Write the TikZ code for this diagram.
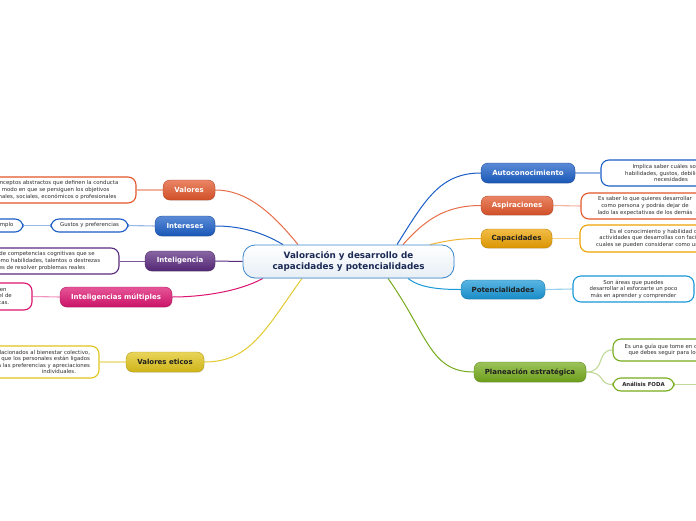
\documentclass[tikz,border=0pt]{standalone}
\usepackage{fontspec}
\setmainfont{DejaVu Sans}
\usetikzlibrary{shadows}
\pgfdeclarelayer{paper}
\pgfdeclarelayer{background}
\pgfsetlayers{paper,background,main}
\definecolor{corange}{HTML}{E2562A}
\definecolor{cblue}{HTML}{1B5EC6}
\definecolor{cpurple}{HTML}{5A2A7E}
\definecolor{cpink}{HTML}{DC1470}
\definecolor{cyellow}{HTML}{E0C41A}
\definecolor{cgold}{HTML}{EDA200}
\definecolor{clblue}{HTML}{1A98D8}
\definecolor{cgreen}{HTML}{76AB1C}
\definecolor{cnavy}{HTML}{1B2A55}
\definecolor{cbord}{HTML}{3B86CC}
\tikzset{
  mainnode/.style={rounded corners=7pt, minimum height=20pt, inner sep=0pt,
    font=\fontsize{7}{7.5}\selectfont\bfseries, text=white, draw=#1!80!black, line width=0.4pt,
    top color=#1!72!white, bottom color=#1!92!black,
    drop shadow={opacity=0.18, shadow xshift=0.6pt, shadow yshift=-0.9pt}},
  darktext/.style={text=black!88},
  central/.style={rounded corners=12pt, minimum width=211pt, minimum height=33pt, inner sep=0pt,
    draw=cbord, line width=0.8pt, top color=white, bottom color=black!15!cbord!12,
    font=\fontsize{8.8}{10.2}\selectfont\bfseries, text=cnavy, align=center,
    drop shadow={opacity=0.15, shadow xshift=0.6pt, shadow yshift=-0.9pt}},
  textbox/.style={rounded corners=8pt, draw=#1, line width=1.1pt, fill=white, inner sep=0pt,
    align=center, font=\fontsize{5.4}{6.6}\selectfont, text=black!82},
  link/.style={line width=1pt, draw=#1},
  sublink/.style={line width=1.1pt, draw=#1!45!white},
}
\begin{document}
\begin{tikzpicture}[x=1pt,y=-1pt]
\useasboundingbox (0,0) rectangle (696,520);
\clip (0,0) rectangle (696,520);
\begin{pgfonlayer}{paper}
\fill[white] (0,0) rectangle (696,520);
\end{pgfonlayer}

% main nodes
\node[mainnode=corange, minimum width=52pt] (val) at (189,190) {Valores};
\node[mainnode=cblue, minimum width=60pt] (int) at (185,226) {Intereses};
\node[mainnode=cpurple, minimum width=70pt] (intel) at (180,261) {Inteligencia};
\node[mainnode=cpink, minimum width=112pt] (im) at (116,297) {Inteligencias múltiples};
\node[mainnode=cyellow, minimum width=78pt, darktext] (ve) at (165,362) {Valores eticos};
\node[mainnode=cblue, minimum width=94pt] (auto) at (528,173) {Autoconocimiento};
\node[mainnode=corange, minimum width=72pt, minimum height=19pt] (asp) at (517,205.5) {Aspiraciones};
\node[mainnode=cgold, minimum width=71pt, minimum height=19pt, darktext] (cap) at (516.5,238.5) {Capacidades};
\node[mainnode=clblue, minimum width=84pt, minimum height=19pt, darktext] (pot) at (503,289.5) {Potencialidades};
\node[mainnode=cgreen, minimum width=112pt, darktext] (pe) at (530,372) {Planeación estratégica};

% central node
\node[central] (c) at (348.5,261.5) {Valoración y desarrollo de\\capacidades y potencialidades};

% text boxes
\node[textbox=corange, minimum width=172pt, minimum height=26pt] (valt) at (50,190)
  {Son conceptos abstractos que definen la conducta\\y el modo en que se persiguen los objetivos\\personales, sociales, económicos o profesionales};
\node[textbox=cblue, minimum width=77pt, minimum height=13pt] (gus) at (89.5,225.5) {Gustos y preferencias};
\node[textbox=cblue, minimum width=41pt, minimum height=13pt] (eje) at (2.5,225.5) {Ejemplo};
\node[textbox=cpurple, minimum width=170pt, minimum height=26pt] (intelt) at (34,261)
  {Conjunto de competencias cognitivas que se\\expresan como habilidades, talentos o destrezas\\capaces de resolver problemas reales};
\node[textbox=cpink, minimum width=135pt, minimum height=27pt] (imt) at (-35.5,296.5)
  {Las personas son diferentes en\\su forma de aprender y su nivel de\\habilidades en áreas específicas.};
\node[textbox=cyellow, minimum width=170pt, minimum height=32pt, align=right, text width=152pt] (vet) at (14,362)
  {Son los valores relacionados al bienestar colectivo,\hspace*{6pt}\\mientras que los personales están ligados\\a las preferencias y apreciaciones\hspace*{11pt}\\individuales.\hspace*{14pt}};
\node[textbox=cblue, minimum width=140pt, minimum height=26pt] (autot) at (671,173)
  {Implica saber cuáles son tus\\habilidades, gustos, debilidades y\\necesidades};
\node[textbox=corange, minimum width=128pt, minimum height=26pt] (aspt) at (645,206)
  {Es saber lo que quieres desarrollar\\como persona y podrás dejar de\\lado las expectativas de los demás};
\node[textbox=cgold, minimum width=160pt, minimum height=27pt] (capt) at (660,238.5)
  {Es el conocimiento y habilidad de las\\actividades que desarrollas con facilidad, las\\cuales se pueden considerar como una ventaja};
\node[textbox=clblue, minimum width=121pt, minimum height=26pt] (pott) at (633.5,289)
  {Son áreas que puedes\\desarrollar al esforzarte un poco\\más en aprender y comprender};
\node[textbox=cgreen, minimum width=138pt, minimum height=22pt] (pet) at (682,350)
  {Es una guía que tome en cuenta los pasos\\que debes seguir para lograr tus metas};
\node[textbox=cgreen, minimum width=61pt, minimum height=13pt, font=\fontsize{5.4}{6}\selectfont\bfseries, text=black!85] (foda) at (643.5,384.5) {Análisis FODA};
\coordinate (offr) at (712,384.5);

\begin{pgfonlayer}{background}
% connectors from the central node
\draw[link=corange!85!white] ([xshift=-50.5pt]c.north) .. controls (270,210) and (245,190) .. (val.east);
\draw[link=cblue] ([xshift=-65.5pt]c.north) .. controls (262,232) and (240,226) .. (int.east);
\draw[link=cpurple] (c.west) -- (intel.east);
\draw[link=cpink] ([xshift=-85.5pt]c.south) .. controls (238,292) and (200,297) .. (im.east);
\draw[link=cyellow!90!white] ([xshift=-46.5pt]c.south) .. controls (265,330) and (250,362) .. (ve.east);
\draw[link=cblue] ([xshift=48.5pt]c.north) .. controls (425,200) and (440,173) .. (auto.west);
\draw[link=corange!85!white] ([xshift=54.5pt]c.north) .. controls (425,220) and (445,205.5) .. (asp.west);
\draw[link=cgold!80!white] ([xshift=81.5pt]c.north) .. controls (450,240) and (460,238.5) .. (cap.west);
\draw[link=clblue] ([xshift=59.5pt]c.south) .. controls (420,288) and (440,289.5) .. (pot.west);
\draw[link=cgreen] ([xshift=39.5pt]c.south) .. controls (428,335) and (430,372) .. (pe.west);

% connectors to the text boxes
\draw[sublink=corange] (val.west) -- (valt.east);
\draw[sublink=cblue] (int.west) -- (gus.east);
\draw[sublink=cblue] (gus.west) -- (eje.east);
\draw[line width=0.8pt, draw=cpurple!80!white] (intel.west) -- (intelt.east);
\draw[sublink=cpink] (im.west) -- (imt.east);
\draw[sublink=cyellow] (ve.west) -- (vet.east);
\draw[sublink=cblue] (auto.east) -- (autot.west);
\draw[sublink=corange] (asp.east) -- (aspt.west);
\draw[sublink=cgold] (cap.east) -- (capt.west);
\draw[sublink=clblue] (pot.east) -- (pott.west);
\draw[sublink=cgreen] (pe.east) .. controls (606,372) and (596,350) .. (pet.west);
\draw[sublink=cgreen] (pe.east) .. controls (606,372) and (598,384.5) .. (foda.west);
\draw[sublink=cgreen] (foda.east) -- (offr);
\end{pgfonlayer}
\end{tikzpicture}
\end{document}
